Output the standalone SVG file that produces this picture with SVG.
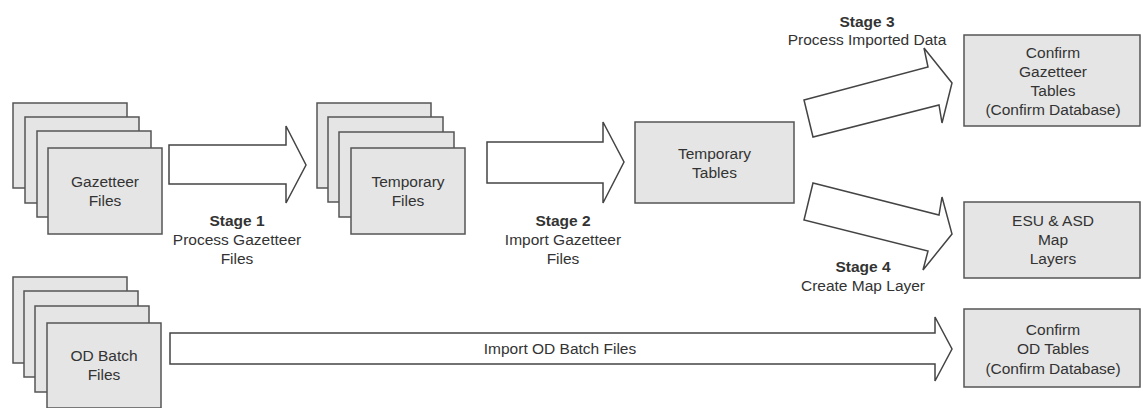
<svg xmlns="http://www.w3.org/2000/svg" width="1143" height="408" viewBox="0 0 1143 408">
<style>
.box{fill:#e5e5e5;stroke:#555;stroke-width:1.5}
.arr{fill:#fff;stroke:#444;stroke-width:1.5;stroke-linejoin:miter}
text{font-family:"Liberation Sans",Arial,sans-serif;font-size:15.5px;fill:#333;text-anchor:middle}
.b{font-weight:bold}
</style>
<rect width="1143" height="408" fill="#fff"/>
<g id="gazetteer-files">
<rect class="box" x="13" y="103" width="114" height="85"/>
<rect class="box" x="25" y="117" width="114" height="86"/>
<rect class="box" x="37" y="131" width="114" height="86"/>
<rect class="box" x="48" y="148" width="114" height="86"/>
<text x="105" y="186.5">Gazetteer</text>
<text x="105" y="205.5">Files</text>
</g>
<g id="temporary-files">
<rect class="box" x="317" y="103" width="114" height="85"/>
<rect class="box" x="328" y="117" width="115" height="85"/>
<rect class="box" x="339" y="132" width="115" height="85"/>
<rect class="box" x="351" y="148" width="114" height="86"/>
<text x="408" y="187">Temporary</text>
<text x="408" y="206">Files</text>
</g>
<g id="temporary-tables">
<rect class="box" x="635" y="122" width="159" height="81"/>
<text x="714.5" y="158.5">Temporary</text>
<text x="714.5" y="177.5">Tables</text>
</g>
<g id="confirm-gazetteer-tables">
<rect class="box" x="964" y="35" width="176" height="91"/>
<text x="1053" y="57.5">Confirm</text>
<text x="1053" y="76.5">Gazetteer</text>
<text x="1053" y="95.5">Tables</text>
<text x="1053" y="115">(Confirm Database)</text>
</g>
<g id="esu-asd-map-layers">
<rect class="box" x="964" y="202" width="176" height="76"/>
<text x="1053" y="225.5">ESU &amp; ASD</text>
<text x="1053" y="244.5">Map</text>
<text x="1053" y="263.5">Layers</text>
</g>
<g id="od-batch-files">
<rect class="box" x="13" y="277" width="114" height="86"/>
<rect class="box" x="24" y="291" width="114" height="86"/>
<rect class="box" x="35" y="306" width="114" height="86"/>
<rect class="box" x="47" y="323" width="114" height="85"/>
<text x="104" y="360.5">OD Batch</text>
<text x="104" y="380">Files</text>
</g>
<g id="confirm-od-tables">
<rect class="box" x="964" y="309" width="176" height="78"/>
<text x="1053" y="334.5">Confirm</text>
<text x="1053" y="353.5">OD Tables</text>
<text x="1053" y="374">(Confirm Database)</text>
</g>
<g id="connectors">
<polygon class="arr" points="169,145 286,145 286,126 306,165 286,203 286,184 169,184"/>
<polygon class="arr" points="487,142 603,142 603,122 624,162 603,203 603,183 487,183"/>
<polygon class="arr" points="804,100 928,67 924,48 952,83 942,123 939,105 813,137"/>
<polygon class="arr" points="813,183 939,215 942,197 952,234 923,270 928,251 804,220"/>
<polygon class="arr" points="170,333 935,333 935,317 952,349 935,381 935,364 170,364"/>
<text class="b" x="237" y="225.5">Stage 1</text>
<text x="237" y="244.5">Process Gazetteer</text>
<text x="237" y="263.5">Files</text>
<text class="b" x="563" y="225.5">Stage 2</text>
<text x="563" y="244.5">Import Gazetteer</text>
<text x="563" y="263.5">Files</text>
<text class="b" x="867" y="26.5">Stage 3</text>
<text x="867" y="44.5">Process Imported Data</text>
<text class="b" x="863" y="272">Stage 4</text>
<text x="863" y="290.5">Create Map Layer</text>
<text x="560" y="353.5">Import OD Batch Files</text>
</g>
</svg>
